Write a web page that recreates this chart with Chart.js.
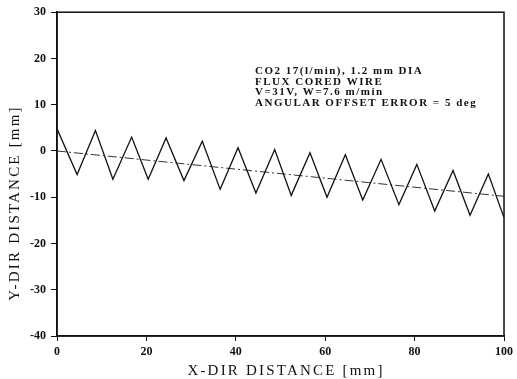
<!DOCTYPE html>
<html>
<head>
<meta charset="utf-8">
<script src="https://cdn.jsdelivr.net/npm/chart.js@4"></script>
<style>
  html, body { margin: 0; padding: 0; background: #fff; }
  #wrap { width: 517px; height: 379px; }
</style>
</head>
<body>
<div id="wrap"><canvas id="chart" width="517" height="379"></canvas></div>
<script>
// weld path data (x, y in mm)
const pathX = [0, 4.5, 8.6, 12.5, 16.7, 20.4, 24.4, 28.4, 32.5, 36.5, 40.5, 44.5, 48.7,
               52.4, 56.6, 60.4, 64.5, 68.4, 72.5, 76.5, 80.5, 84.5, 88.6, 92.4, 96.5, 100];
const pathY = [4.8, -5.1, 4.4, -6.1, 3.0, -6.1, 2.8, -6.4, 2.1, -8.3, 0.7, -9.1, 0.3,
               -9.6, -0.4, -10.0, -0.8, -10.6, -1.8, -11.6, -2.9, -13.0, -4.2, -13.9, -5.0, -14.4];
// offset reference line (5 deg)
const refX = [0, 100];
const refY = [0, -9.8];

const xTicks = [0, 20, 40, 60, 80, 100];
const yTicks = [30, 20, 10, 0, -10, -20, -30, -40];

const noteLines = [
  "CO2 17(l/min), 1.2 mm DIA",
  "FLUX CORED WIRE",
  "V=31V, W=7.6 m/min",
  "ANGULAR OFFSET ERROR = 5 deg"
];
const xTitle = "X-DIR DISTANCE [mm]";
const yTitle = "Y-DIR DISTANCE [mm]";

const tickFont = { family: "Liberation Serif", size: 12, weight: "bold" };

const toPts = (xs, ys) => xs.map((x, i) => ({ x, y: ys[i] }));

// frame + text
const decor = {
  id: "decor",
  afterDraw(chart) {
    const { ctx, chartArea: a } = chart;
    ctx.save();
    ctx.strokeStyle = "#111";
    ctx.lineWidth = 1.5;
    ctx.strokeRect(a.left, a.top, a.right - a.left, a.bottom - a.top);

    ctx.fillStyle = "#111";
    ctx.textBaseline = "middle";
    ctx.font = "bold 11px 'Liberation Serif'";
    ctx.letterSpacing = "1.5px";
    ctx.textAlign = "left";
    noteLines.forEach((t, i) => ctx.fillText(t, 255, 71 + i * 10.7));

    ctx.font = "15px 'Liberation Serif'";
    ctx.letterSpacing = "2.2px";
    ctx.textAlign = "center";
    ctx.fillText(xTitle, 286, 371);

    ctx.translate(15, 203);
    ctx.rotate(-Math.PI / 2);
    ctx.fillText(yTitle, 0, 0);
    ctx.restore();
  }
};

new Chart(document.getElementById("chart"), {
  type: "line",
  data: {
    datasets: [
      {
        data: toPts(pathX, pathY),
        borderColor: "#111",
        borderWidth: 1.3,
        pointRadius: 0,
        tension: 0
      },
      {
        data: toPts(refX, refY),
        borderColor: "#333",
        borderWidth: 1,
        borderDash: [9, 3, 2, 3],
        pointRadius: 0,
        tension: 0
      }
    ]
  },
  options: {
    responsive: false,
    animation: false,
    layout: { padding: { top: 12, right: 8, left: 0, bottom: 0 } },
    plugins: { legend: { display: false }, tooltip: { enabled: false } },
    scales: {
      x: {
        type: "linear",
        min: 0, max: 100,
        afterFit: s => { s.height = 43; },
        afterBuildTicks: s => { s.ticks = xTicks.map(v => ({ value: v })); },
        grid: { drawOnChartArea: false, tickLength: 5, color: "#111", lineWidth: 1 },
        border: { color: "#111", width: 1.5 },
        ticks: { color: "#111", font: tickFont, padding: 4, maxRotation: 0 }
      },
      y: {
        type: "linear",
        min: -40, max: 30,
        afterFit: s => { s.width = 57; },
        afterBuildTicks: s => { s.ticks = yTicks.map(v => ({ value: v })); },
        grid: { drawOnChartArea: false, tickLength: 6, color: "#111", lineWidth: 1 },
        border: { color: "#111", width: 1.5 },
        ticks: { color: "#111", font: tickFont, padding: 5 }
      }
    }
  },
  plugins: [decor]
});
</script>
</body>
</html>
